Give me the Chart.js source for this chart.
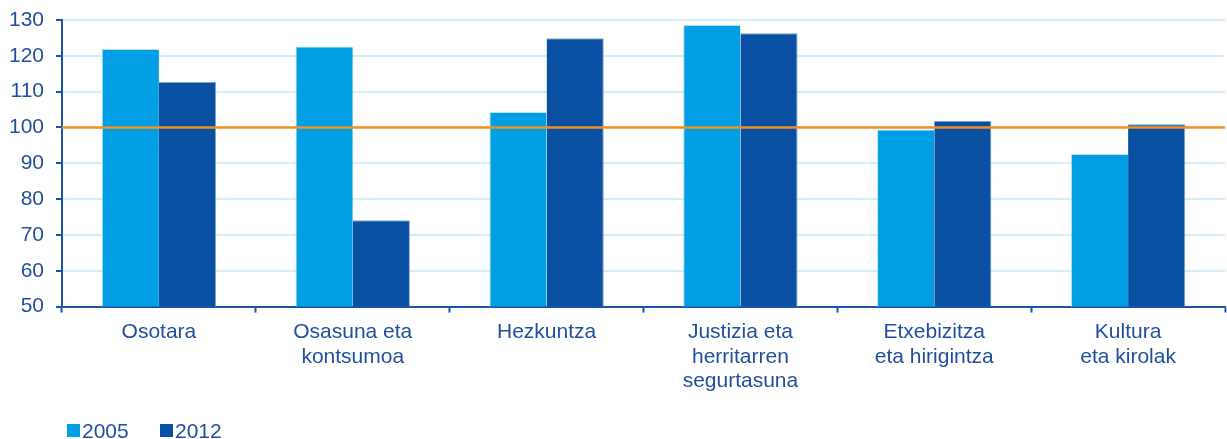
<!DOCTYPE html>
<html>
<head>
<meta charset="utf-8">
<script src="https://cdn.jsdelivr.net/npm/chart.js@4/dist/chart.umd.min.js"></script>
<style>
  html, body { margin: 0; padding: 0; background: #fff; }
  #wrap { width: 1227px; height: 439px; }
</style>
</head>
<body>
<div id="wrap"><canvas id="chart"></canvas></div>
<script>
// Sector categories (multi-line labels) and index values per year
const categories = [
  ['Osotara'],
  ['Osasuna eta', 'kontsumoa'],
  ['Hezkuntza'],
  ['Justizia eta', 'herritarren', 'segurtasuna'],
  ['Etxebizitza', 'eta hirigintza'],
  ['Kultura', 'eta kirolak']
];
const values2005 = [121.9, 122.6, 104.3, 128.6, 99.4, 92.6];
const values2012 = [112.7, 74.1, 124.9, 126.3, 101.9, 100.9];
const referenceLevel = 100;

const axisBlue = '#1a55ad';
const textBlue = '#1f4f9e';
const fontFamily = 'Liberation Sans, Arial, sans-serif';

// horizontal reference line drawn at the y-scale value
const referenceLine = {
  id: 'referenceLine',
  afterDatasetsDraw(chart) {
    const { ctx, chartArea, scales } = chart;
    const y = scales.y.getPixelForValue(referenceLevel);
    ctx.save();
    ctx.strokeStyle = '#f39020';
    ctx.lineWidth = 2.5;
    ctx.beginPath();
    ctx.moveTo(chartArea.left, y);
    ctx.lineTo(chartArea.right, y);
    ctx.stroke();
    ctx.restore();
  }
};

// compact legend in the bottom-left corner: square swatch then year text
const bottomLegend = {
  id: 'bottomLegend',
  afterDraw(chart) {
    const { ctx } = chart;
    let x = 67;
    const top = 424;
    ctx.save();
    ctx.font = '21px ' + fontFamily;
    ctx.textBaseline = 'alphabetic';
    chart.data.datasets.forEach(ds => {
      ctx.fillStyle = ds.backgroundColor;
      ctx.fillRect(x, top, 13, 13);
      ctx.fillStyle = textBlue;
      ctx.fillText(ds.label, x + 15, top + 14);
      x += 93;
    });
    ctx.restore();
  }
};

new Chart(document.getElementById('chart').getContext('2d'), {
  type: 'bar',
  data: {
    labels: categories,
    datasets: [
      {
        label: '2005',
        data: values2005,
        backgroundColor: '#009fe3',
        borderColor: '#b9e2f5',
        borderWidth: { top: 1, left: 1, right: 0, bottom: 0 }
      },
      {
        label: '2012',
        data: values2012,
        backgroundColor: '#0a50a2',
        borderColor: '#7ea6d4',
        borderWidth: { top: 1, left: 0, right: 1, bottom: 0 }
      }
    ]
  },
  options: {
    responsive: true,
    maintainAspectRatio: false,
    animation: false,
    layout: { padding: { top: 0, right: 2, left: 0, bottom: 38 } },
    categoryPercentage: 0.59,
    barPercentage: 1.0,
    scales: {
      x: {
        grid: {
          offset: true,
          drawOnChartArea: false,
          tickColor: axisBlue,
          tickLength: 6,
          tickWidth: 2
        },
        border: { color: axisBlue, width: 2 },
        ticks: {
          color: textBlue,
          font: { family: fontFamily, size: 21, lineHeight: 1.15 },
          padding: 8,
          maxRotation: 0
        }
      },
      y: {
        min: 50,
        max: 130,
        afterFit(scale) {
          scale.width = 62;
          scale.paddingTop = 20;
        },
        ticks: {
          stepSize: 10,
          color: textBlue,
          font: { family: fontFamily, size: 21, lineHeight: 1 },
          padding: 12
        },
        grid: {
          color: '#d3edf9',
          lineWidth: 2,
          tickColor: axisBlue,
          tickLength: 6,
          tickWidth: 2
        },
        border: { color: axisBlue, width: 2 }
      }
    },
    plugins: {
      legend: { display: false },
      tooltip: { enabled: false }
    }
  },
  plugins: [referenceLine, bottomLegend]
});
</script>
</body>
</html>
